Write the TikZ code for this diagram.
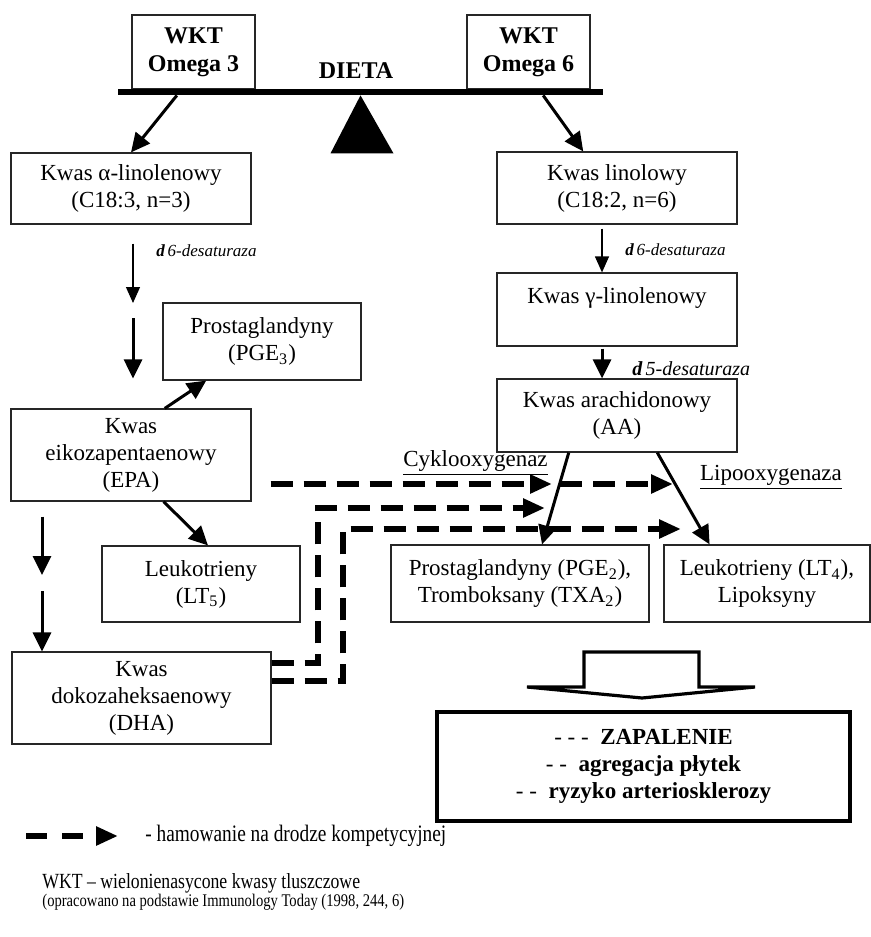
\documentclass[tikz,border=0pt]{standalone}
\usepackage{fontspec}
\setmainfont{Liberation Serif}
\newfontfamily\narrowfont[FakeStretch=0.82]{Liberation Serif}
\usetikzlibrary{arrows.meta,calc}

\begin{document}
\begin{tikzpicture}[x=0.5pt, y=-0.5pt,
    box/.style={draw=black!85, line width=0.6pt, rectangle, inner sep=0pt, align=center, font=\fontsize{11.5}{13.5}\selectfont},
    wktbox/.style={box, minimum width=61.5pt, minimum height=37pt, font=\fontsize{12}{14}\selectfont\bfseries},
    arr/.style={-{Triangle[length=9.5pt,width=9pt]}, line width=1.5pt},
    thinarr/.style={-{Triangle[length=8pt,width=7pt]}, line width=0.6pt},
    inhib/.style={-{Triangle[length=11pt,width=9pt]}, line width=3pt, dash pattern=on 11pt off 5.5pt},
    enzyme/.style={anchor=west, inner sep=0pt, font=\fontsize{8.5}{10}\selectfont\itshape},
    lbl/.style={inner sep=0pt, font=\fontsize{11.5}{13.5}\selectfont}]
    \useasboundingbox (0,0) rectangle (871,937);
    % Dieta (waga)
    \node[wktbox] (om3) at (193.5,52) {WKT\\Omega 3};
    \node[wktbox] (om6) at (528.5,52) {WKT\\Omega 6};
    \node[font=\fontsize{12}{14}\selectfont\bfseries] (dieta) at (356,71) {DIETA};
    \node[fill, inner sep=0pt, minimum width=242.5pt, minimum height=3pt] (bar) at (360.5,92) {};
    \fill (bar.south) -- ++(-30,58) -- ++(63,0) -- cycle;
    % Szlak omega 3
    \node[box, minimum width=120pt, minimum height=35.5pt] (alpha) at (131,188.5) {Kwas α-linolenowy\\(C18:3, n=3)};
    \node[box, minimum width=99pt, minimum height=38.5pt] (pge3) at (262,341.5) {Prostaglandyny\\(PGE\textsubscript{3})};
    \node[box, minimum width=120pt, minimum height=46pt] (epa) at (131,455) {Kwas\\eikozapentaenowy\\(EPA)};
    \node[box, minimum width=99pt, minimum height=38pt] (lt5) at (201,584) {Leukotrieny\\(LT\textsubscript{5})};
    \node[box, minimum width=129.5pt, minimum height=46pt] (dha) at (141.5,698) {Kwas\\dokozaheksaenowy\\(DHA)};
    \node[enzyme] (d6a) at (156,251) {\textbf{d}\,6-desaturaza};
    % Szlak omega 6
    \node[box, minimum width=120pt, minimum height=36pt] (lin) at (617,188) {Kwas linolowy\\(C18:2, n=6)};
    \node[box, minimum width=120pt, minimum height=36.5pt] (gam) at (617,309.5) {Kwas γ-linolenowy\\~};
    \node[box, minimum width=120pt, minimum height=36.5pt] (aa) at (617,415.5) {Kwas arachidonowy\\(AA)};
    \node[box, minimum width=129pt, minimum height=38.5pt] (pge2) at (520,583.5) {Prostaglandyny (PGE\textsubscript{2}),\\Tromboksany (TXA\textsubscript{2})};
    \node[box, minimum width=103pt, minimum height=38.5pt] (lt4) at (767,583.5) {Leukotrieny (LT\textsubscript{4}),\\Lipoksyny};
    \node[enzyme] (d6b) at (625,250) {\textbf{d}\,6-desaturaza};
    \node[enzyme, font=\fontsize{10}{12}\selectfont\itshape] (d5) at (632,369) {\textbf{d}\,5-desaturaza};
    \node[lbl] (cox) at (475.5,463) {\underline{Cyklooxygenaz}};
    \node[lbl] (lox) at (771,477) {\underline{Lipooxygenaza}};
    % Strzalki
    \draw[arr] ($(bar.south west)!0.122!(bar.south east)$) -- (alpha.north);
    \draw[arr] ($(bar.south west)!0.876!(bar.south east)$) -- ($(lin.north west)!0.36!(lin.north east)$);
    \coordinate (am) at (133,303);
    \draw[thinarr, shorten <=9.5pt] (alpha.south -| am) -- (am);
    \draw[arr, shorten <=7.5pt, shorten >=15pt] (am) -- (epa.north -| am);
    \draw[arr] ($(epa.north west)!0.64!(epa.north east)$) -- ($(pge3.south west)!0.22!(pge3.south east)$);
    \draw[arr] ($(epa.south west)!0.635!(epa.south east)$) -- ($(lt5.north west)!0.535!(lt5.north east)$);
    \coordinate (lm) at (42,575);
    \draw[arr, shorten <=7.5pt] (epa.south -| lm) -- (lm);
    \draw[arr, shorten <=8pt] (lm) -- (dha.north -| lm);
    \coordinate (rx) at (602,0);
    \draw[thinarr, shorten <=2pt] (lin.south -| rx) -- (gam.north -| rx);
    \draw[arr, shorten <=1pt] (gam.south -| rx) -- (aa.north -| rx);
    \draw[arr] ($(aa.south west)!0.3!(aa.south east)$) -- ($(pge2.north west)!0.585!(pge2.north east)$);
    \draw[arr] ($(aa.south west)!0.667!(aa.south east)$) -- ($(lt4.north west)!0.223!(lt4.north east)$);
    % Hamowanie kompetycyjne
    \coordinate (h1) at (552,484);
    \coordinate (h2) at (673,484);
    \draw[inhib, shorten <=9.5pt] (epa.east |- h1) -- (h1);
    \draw[inhib, shorten <=4pt] (h1) -- (h2);
    \coordinate (e1) at (318,663);
    \coordinate (t1) at (545,508);
    \draw[inhib] (dha.east |- e1) -- (e1) |- (t1);
    \coordinate (e2) at (343,681);
    \coordinate (t2) at (681,529);
    \draw[inhib] (dha.east |- e2) -- (e2) |- (t2);
    % Skutki
    \draw[line width=1.6pt] (584,687) -- (584,652) -- (699,652) -- (699,687) -- (755,687) -- (642,698) -- (527,687) -- cycle;
    \node[draw, line width=1.75pt, inner sep=0pt, minimum width=206.5pt, minimum height=54.5pt, align=center, font=\fontsize{11.5}{13.5}\selectfont] (wynik) at (643.5,766.5) {- - -\enspace\textbf{ZAPALENIE}\\- -\enspace\textbf{agregacja płytek}\\- -\enspace\textbf{ryzyko arteriosklerozy}};
    % Legenda
    \coordinate (lg1) at (26,836);
    \coordinate (lg2) at (118,836);
    \draw[inhib, dash pattern=on 10.5pt off 7.5pt] (lg1) -- (lg2);
    \node[anchor=west, inner sep=0pt, font=\narrowfont\fontsize{11.8}{13.5}\selectfont] (leg) at (145,836) {- hamowanie na drodze kompetycyjnej};
    \node[anchor=west, inner sep=0pt, font=\narrowfont\fontsize{10.8}{13}\selectfont] (wkt) at (42,883) {WKT – wielonienasycone kwasy tluszczowe};
    \node[anchor=west, inner sep=0pt, font=\narrowfont\fontsize{8.9}{11}\selectfont] (src) at (42,902) {(opracowano na podstawie Immunology Today (1998, 244, 6)};
\end{tikzpicture}
\end{document}
